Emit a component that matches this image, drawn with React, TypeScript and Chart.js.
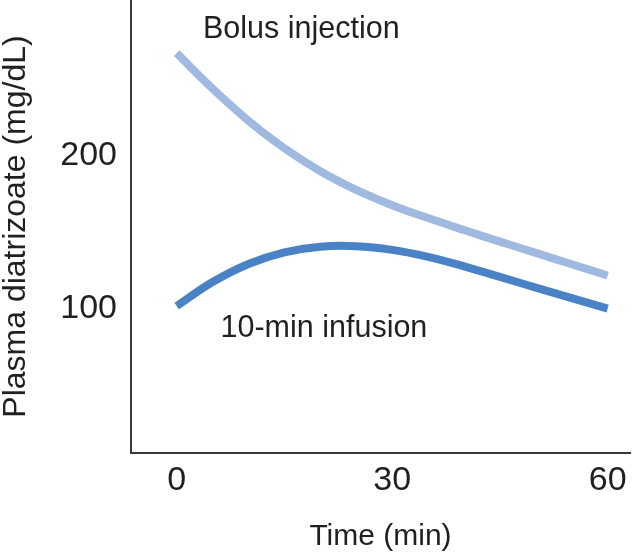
import React, { useEffect, useRef } from "react";
import { Chart, registerables } from "chart.js";

Chart.register(...registerables);

// Time (min)
const times = [0, 5, 10, 15, 20, 25, 30, 35, 40, 45, 50, 55, 60];
// Plasma diatrizoate (mg/dL)
const bolusValues = [266.8, 243.6, 222.6, 204.6, 189.6, 177.4, 167.4, 159.0, 151.2, 143.6, 136.2, 128.8, 121.4];
const infusionValues = [101.5, 117.2, 129.0, 136.6, 140.3, 140.6, 138.2, 133.6, 127.4, 120.5, 113.5, 106.6, 99.8];

const xTicks = [0, 30, 60];
const yTicks = [100, 200];

const seriesNames = ["Bolus injection", "10-min infusion"];
// label anchor (time, value) for in-chart labels
const labelTimes = [3.66, 6.1];
const labelValues = [276.6, 81.4];

const FONT = "'Liberation Sans', Arial, sans-serif";
const TEXT = "#231f20";

const labelPlugin = {
  id: "seriesLabels",
  afterDatasetsDraw(chart: any) {
    const { ctx, scales } = chart;
    ctx.save();
    ctx.font = `30.5px ${FONT}`;
    ctx.fillStyle = TEXT;
    ctx.textAlign = "left";
    ctx.textBaseline = "alphabetic";
    seriesNames.forEach((name, i) => {
      const x = scales.x.getPixelForValue(labelTimes[i]);
      const y = scales.y.getPixelForValue(labelValues[i]);
      ctx.fillText(name, x, y);
    });
    ctx.restore();
  },
};

export default function App() {
  const ref = useRef<HTMLCanvasElement>(null);

  useEffect(() => {
    if (!ref.current) return;
    const chart = new Chart(ref.current, {
      type: "line",
      data: {
        datasets: [
          {
            label: seriesNames[0],
            data: times.map((t, i) => ({ x: t, y: bolusValues[i] })),
            borderColor: "#a0b9e1",
            borderWidth: 8,
            pointRadius: 0,
            tension: 0.4,
            borderCapStyle: "butt",
            fill: false,
          },
          {
            label: seriesNames[1],
            data: times.map((t, i) => ({ x: t, y: infusionValues[i] })),
            borderColor: "#4a82c6",
            borderWidth: 8,
            pointRadius: 0,
            tension: 0.4,
            borderCapStyle: "butt",
            fill: false,
          },
        ],
      },
      options: {
        responsive: false,
        animation: false,
        layout: { padding: { top: 0, left: 0, right: 2, bottom: 0 } },
        plugins: {
          legend: { display: false },
          tooltip: { enabled: false },
        },
        scales: {
          x: {
            type: "linear",
            min: -6.36,
            max: 63.11,
            grid: { display: false, drawTicks: false },
            border: { display: true, color: "#3a3a3a", width: 2 },
            afterBuildTicks: (s: any) => {
              s.ticks = xTicks.map((v) => ({ value: v }));
            },
            afterFit: (s: any) => {
              s.height = 106;
              s.paddingLeft = 0;
              s.paddingRight = 0;
            },
            ticks: {
              padding: 7,
              color: TEXT,
              font: { family: FONT, size: 34 },
              maxRotation: 0,
              autoSkip: false,
            },
            title: {
              display: true,
              text: "Time (min)",
              color: TEXT,
              font: { family: FONT, size: 30, lineHeight: 1 },
              padding: { top: 0, bottom: 7 },
            },
          },
          y: {
            type: "linear",
            min: 5.36,
            max: 301.6,
            grid: { display: false, drawTicks: false },
            border: { display: true, color: "#3a3a3a", width: 2 },
            afterBuildTicks: (s: any) => {
              s.ticks = yTicks.map((v) => ({ value: v }));
            },
            afterFit: (s: any) => {
              s.width = 131;
              s.paddingTop = 0;
              s.paddingBottom = 0;
            },
            ticks: {
              padding: 14,
              color: TEXT,
              font: { family: FONT, size: 34 },
              autoSkip: false,
            },
            title: {
              display: true,
              text: "Plasma diatrizoate (mg/dL)",
              color: TEXT,
              font: { family: FONT, size: 32, lineHeight: 1 },
              padding: { top: 0, bottom: 0 },
            },
          },
        },
      },
      plugins: [labelPlugin],
    } as any);
    return () => chart.destroy();
  }, []);

  return (
    <div style={{ position: "absolute", left: 0, top: 0, width: 632, height: 559, background: "#fff" }}>
      <canvas ref={ref} width={632} height={559} />
    </div>
  );
}
